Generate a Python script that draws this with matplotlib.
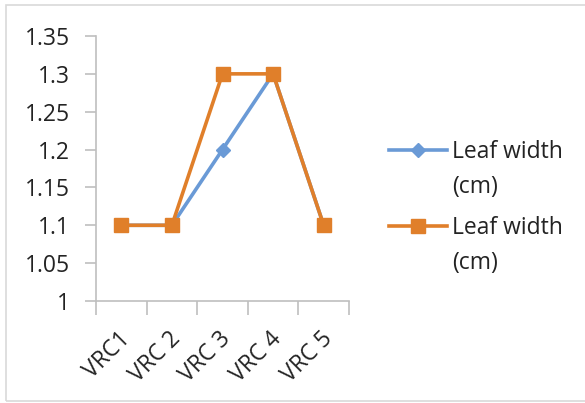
import matplotlib
matplotlib.use("Agg")
import matplotlib.pyplot as plt
import matplotlib.transforms as mtransforms
from matplotlib.patches import Rectangle

plt.rcParams["font.family"] = ["Open Sans", "DejaVu Sans"]

categories = ["VRC1", "VRC 2", "VRC 3", "VRC 4", "VRC 5"]
width_a = [1.1, 1.1, 1.2, 1.3, 1.1]
width_b = [1.1, 1.1, 1.3, 1.3, 1.1]
series_name = "Leaf width"
series_unit = "(cm)"
yticks = [1.0, 1.05, 1.1, 1.15, 1.2, 1.25, 1.3, 1.35]
ytick_labels = ["1", "1.05", "1.1", "1.15", "1.2", "1.25", "1.3", "1.35"]

W, H = 585, 403
FS = 16.5
TXT = "#232323"
fig = plt.figure(figsize=(W / 100, H / 100), dpi=100)

# chart frame
fig.patches.append(Rectangle((6 / W, 1 - 401 / H), 1.0, 396 / H,
                             transform=fig.transFigure, fill=False,
                             edgecolor="#d9d9d9", linewidth=1.2))

ax = fig.add_axes([96 / W, 1 - 301 / H, 253 / W, 265 / H])
x = list(range(len(categories)))

ax.plot(x, width_a, color="#6a9ad6", linewidth=2.6, marker="D",
        markersize=7.5, label=series_name, zorder=2)
ax.plot(x, width_b, color="#e07f2a", linewidth=2.6, marker="s",
        markersize=10.5, label=series_name, zorder=3)

ax.set_xlim(-0.5, len(categories) - 0.5)
ax.set_ylim(1.0, 1.35)
ax.set_yticks(yticks)
ax.set_yticklabels(ytick_labels, fontsize=FS, color=TXT)
ax.set_xticks(x)
ax.set_xticklabels(categories, fontsize=FS, color=TXT,
                   rotation=45, ha="right", va="center",
                   rotation_mode="anchor")
ax.tick_params(axis="x", length=0, pad=25)
shift = mtransforms.ScaledTranslation(5 / 100, 0, fig.dpi_scale_trans)
for lab in ax.get_xticklabels():
    lab.set_transform(lab.get_transform() + shift)
ax.set_xticks([i - 0.5 for i in range(len(categories) + 1)], minor=True)
ax.tick_params(axis="x", which="minor", length=10, color="#bfbfbf", width=1.2)
ax.tick_params(axis="y", length=8, color="#bfbfbf", width=1.2, pad=11)

for side in ["top", "right"]:
    ax.spines[side].set_visible(False)
for side in ["left", "bottom"]:
    ax.spines[side].set_color("#bfbfbf")
    ax.spines[side].set_linewidth(1.2)

leg = fig.legend(loc="upper left", bbox_to_anchor=(389 / W, 1 - 140 / H),
                 frameon=False, fontsize=FS, handlelength=2.55,
                 handletextpad=0.2, labelspacing=2.27,
                 borderaxespad=0, borderpad=0)
fig.canvas.draw()
# second line of each legend label
for t in leg.get_texts():
    t.set_color(TXT)
    fig.text(0, 0, series_unit, fontsize=FS, color=TXT,
             ha="left", va="bottom",
             transform=mtransforms.offset_copy(
                 mtransforms.BboxTransformTo(t.get_window_extent()),
                 fig=fig, x=0, y=-35, units="dots"))

fig.savefig("out.png", dpi=100, facecolor="white")
